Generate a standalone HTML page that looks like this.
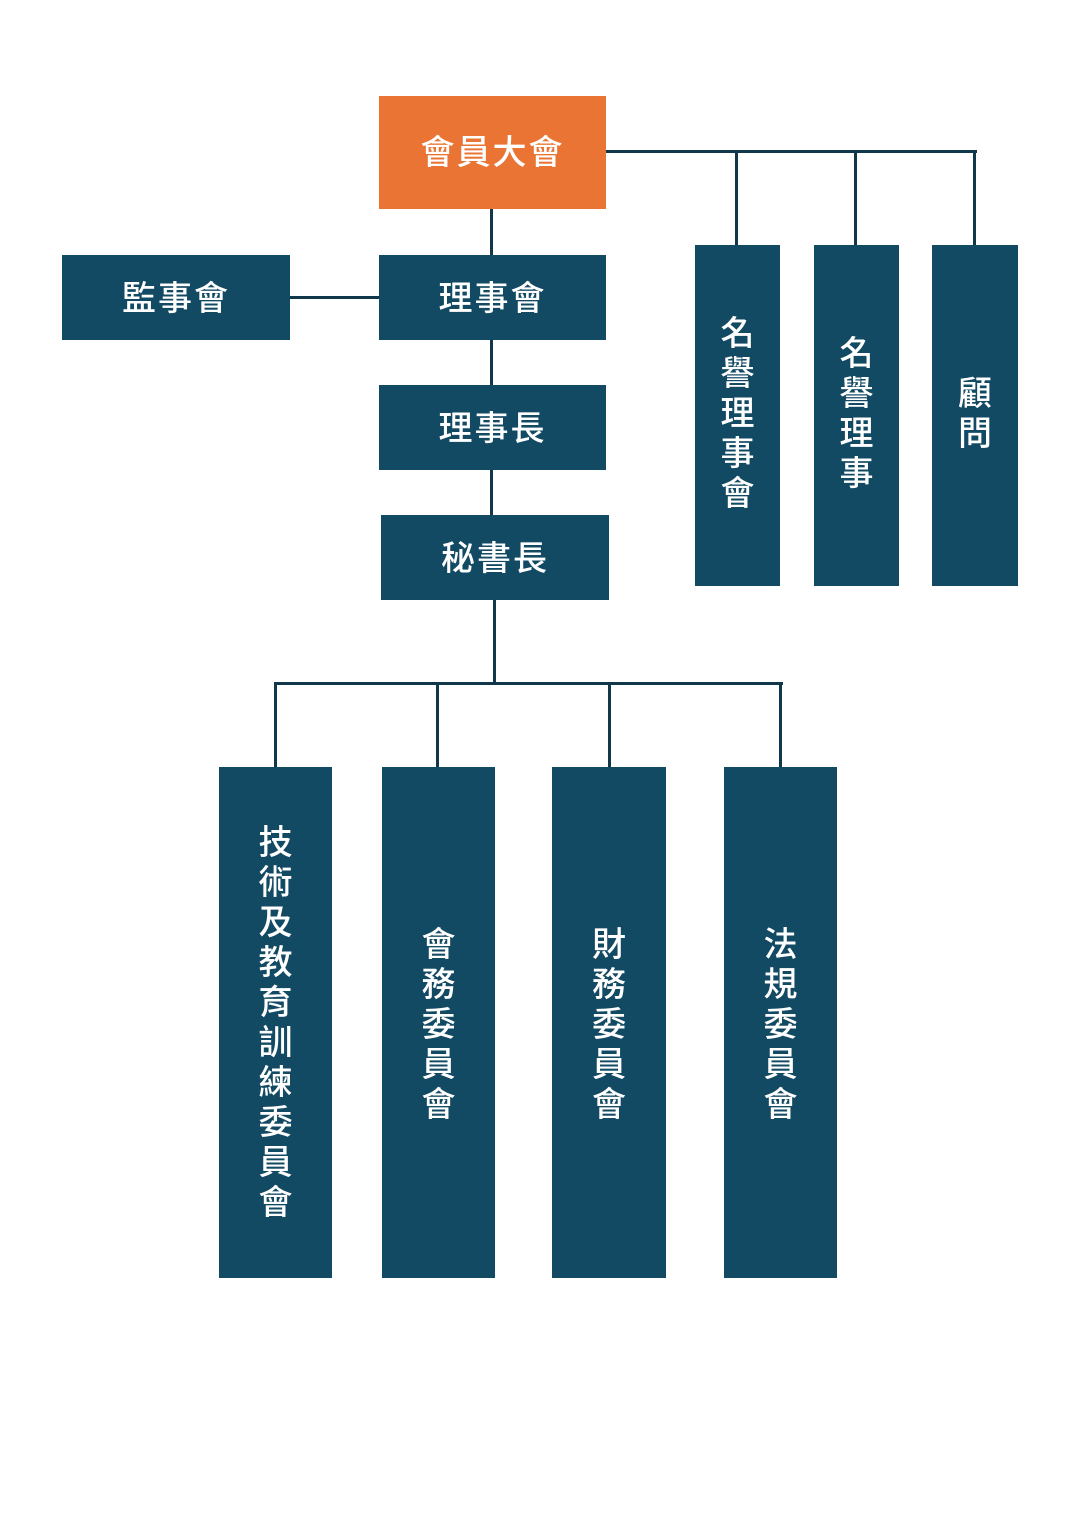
<!DOCTYPE html>
<html><head><meta charset="utf-8"><style>
body{margin:0;background:#fff;}
.c{position:relative;width:1080px;height:1535px;overflow:hidden;font-family:"Liberation Sans","Noto Sans CJK TC",sans-serif;}
.b{position:absolute;background:#134a63;color:#fff;font-size:34px;font-weight:500;display:flex;align-items:center;justify-content:center;letter-spacing:2px;box-sizing:border-box;}
.h{padding-bottom:4px;}
.v{flex-direction:column;line-height:40px;letter-spacing:0;}
.v span{display:block;height:40px;}
.l{position:absolute;background:#10384a;}
</style></head><body><div class="c">
<div class="l" style="left:606px;top:150px;width:371px;height:3px"></div>
<div class="l" style="left:735px;top:150px;width:3px;height:96px"></div>
<div class="l" style="left:854px;top:150px;width:3px;height:96px"></div>
<div class="l" style="left:973px;top:150px;width:3px;height:96px"></div>
<div class="l" style="left:490px;top:209px;width:3px;height:306px"></div>
<div class="l" style="left:290px;top:296px;width:90px;height:3px"></div>
<div class="l" style="left:493px;top:600px;width:3px;height:85px"></div>
<div class="l" style="left:274px;top:682px;width:509px;height:3px"></div>
<div class="l" style="left:274px;top:682px;width:3px;height:86px"></div>
<div class="l" style="left:436px;top:682px;width:3px;height:86px"></div>
<div class="l" style="left:608px;top:682px;width:3px;height:86px"></div>
<div class="l" style="left:779px;top:682px;width:3px;height:86px"></div>

<div class="b h" style="left:379px;top:96px;width:227px;height:113px;background:#e97434;padding-bottom:6px">會員大會</div>
<div class="b h" style="left:379px;top:255px;width:227px;height:85px">理事會</div>
<div class="b h" style="left:62px;top:255px;width:228px;height:85px">監事會</div>
<div class="b h" style="left:379px;top:385px;width:227px;height:85px">理事長</div>
<div class="b h" style="left:381px;top:515px;width:228px;height:85px">秘書長</div>

<div class="b v" style="left:695px;top:245px;width:85px;height:341px;padding-bottom:4px"><span>名</span><span>譽</span><span>理</span><span>事</span><span>會</span></div>
<div class="b v" style="left:814px;top:245px;width:85px;height:341px;padding-bottom:4px"><span>名</span><span>譽</span><span>理</span><span>事</span></div>
<div class="b v" style="left:932px;top:245px;width:86px;height:341px;padding-bottom:4px"><span>顧</span><span>問</span></div>

<div class="b v" style="left:219px;top:767px;width:113px;height:511px"><span>技</span><span>術</span><span>及</span><span>教</span><span>育</span><span>訓</span><span>練</span><span>委</span><span>員</span><span>會</span></div>
<div class="b v" style="left:382px;top:767px;width:113px;height:511px;padding-top:4px"><span>會</span><span>務</span><span>委</span><span>員</span><span>會</span></div>
<div class="b v" style="left:552px;top:767px;width:114px;height:511px;padding-top:4px"><span>財</span><span>務</span><span>委</span><span>員</span><span>會</span></div>
<div class="b v" style="left:724px;top:767px;width:113px;height:511px;padding-top:4px"><span>法</span><span>規</span><span>委</span><span>員</span><span>會</span></div>
</div></body></html>
